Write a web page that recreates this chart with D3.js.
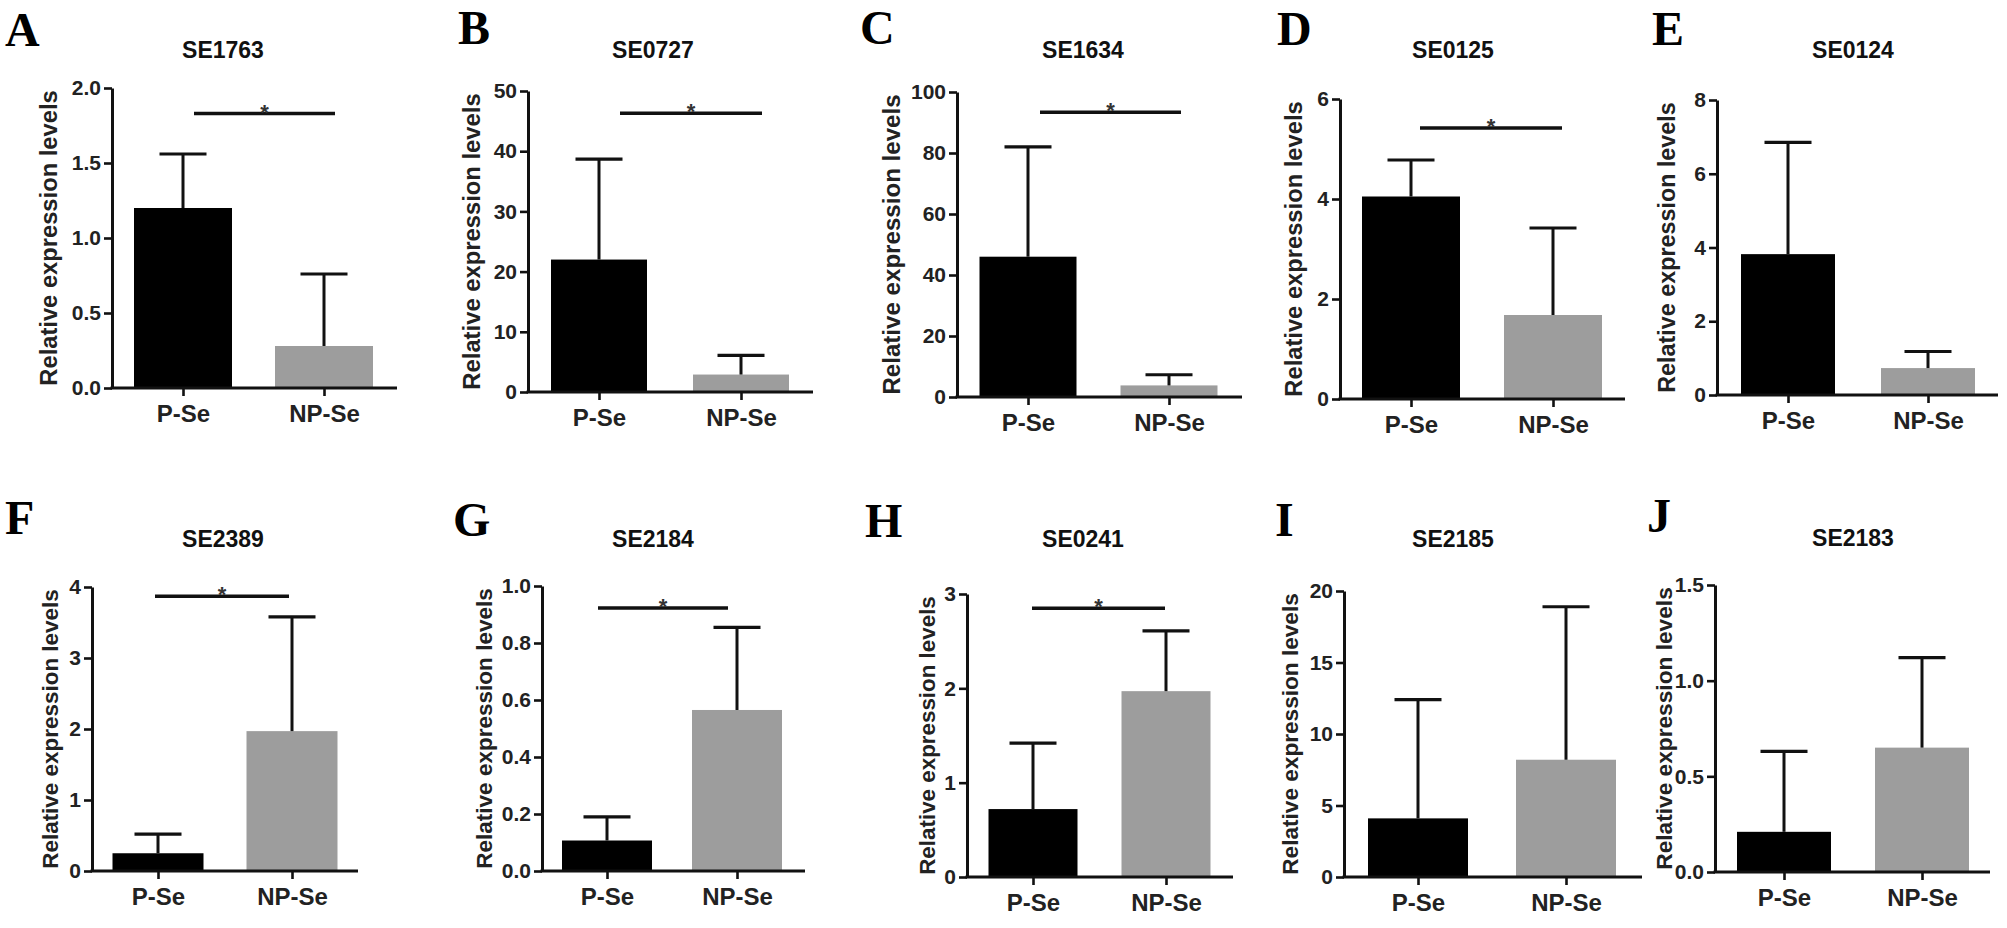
<!DOCTYPE html>
<html><head><meta charset="utf-8">
<script src="https://cdn.jsdelivr.net/npm/d3@7"></script>
<style>body{margin:0;background:#fff;} svg{display:block;}</style>
</head><body>
<svg id="chart" width="2007" height="928"></svg>
<script>
// ---------- data ----------
const panelLetters = ["A","B","C","D","E","F","G","H","I","J"];
const panelTitles  = ["SE1763","SE0727","SE1634","SE0125","SE0124","SE2389","SE2184","SE0241","SE2185","SE2183"];
const groups       = ["P-Se","NP-Se"];
const pSeMean  = [1.20, 22.0, 46.0, 4.05, 3.82, 0.25, 0.107, 0.72, 4.1, 0.21];
const pSeSD    = [0.36, 16.7, 36.0, 0.73, 3.03, 0.27, 0.083, 0.70, 8.3, 0.42];
const npSeMean = [0.28, 2.9, 3.8, 1.68, 0.73, 1.97, 0.565, 1.97, 8.2, 0.65];
const npSeSD   = [0.48, 3.2, 3.5, 1.74, 0.45, 1.61, 0.29, 0.64, 10.7, 0.47];
const yTicks = [
  [0,0.5,1.0,1.5,2.0],[0,10,20,30,40,50],[0,20,40,60,80,100],[0,2,4,6],[0,2,4,6,8],
  [0,1,2,3,4],[0,0.2,0.4,0.6,0.8,1.0],[0,1,2,3],[0,5,10,15,20],[0,0.5,1.0,1.5]
];
const yTickFormat = [".1f","d","d","d","d","d",".1f","d","d",".1f"];
const sigLevel = [1.83, 46.3, 93.4, 5.42, null, 3.87, 0.923, 2.85, null, null];
const sigMark = "*";
const yLabel = "Relative expression levels";

// ---------- layout (positions only) ----------
const layout = [
 {ax:112, top:88, bot:388, xEnd:397, c1:183, c2:324, bw:98, lx:5, ly:46, tx:223, ty:58, lab:55, sdx:11},
 {ax:528, top:91, bot:392, xEnd:813, c1:599, c2:741, bw:96, lx:458, ly:44, tx:653, ty:58, lab:48, sdx:21},
 {ax:957, top:92, bot:397, xEnd:1242, c1:1028, c2:1169, bw:97, lx:860, ly:44, tx:1083, ty:58, lab:57, sdx:12},
 {ax:1340, top:99, bot:399, xEnd:1625, c1:1411, c2:1553, bw:98, lx:1277, ly:45, tx:1453, ty:58, lab:38, sdx:9},
 {ax:1717, top:100, bot:395, xEnd:1998, c1:1788, c2:1928, bw:94, lx:1652, ly:45, tx:1853, ty:58, lab:42, sdx:0},
 {ax:92, top:587, bot:871, xEnd:358, c1:158, c2:292, bw:91, lx:5, ly:534, tx:223, ty:547, lab:34, sdx:-3},
 {ax:542, top:586, bot:871, xEnd:805, c1:607, c2:737, bw:90, lx:453, ly:536, tx:653, ty:547, lab:50, sdx:-9},
 {ax:967, top:594, bot:877, xEnd:1233, c1:1033, c2:1166, bw:89, lx:865, ly:537, tx:1083, ty:547, lab:32, sdx:-1},
 {ax:1344, top:591, bot:877, xEnd:1642, c1:1418, c2:1566, bw:100, lx:1275, ly:536, tx:1453, ty:547, lab:46, sdx:0},
 {ax:1715, top:585, bot:872, xEnd:1990, c1:1784, c2:1922, bw:94, lx:1647, ly:532, tx:1853, ty:546, lab:43, sdx:0}
];
const barColors = ["#000000", "#9d9d9d"];
const ink = "#111";
const sans = "'Liberation Sans', Arial, Helvetica, sans-serif";
const serif = "'Liberation Serif', 'Times New Roman', Times, serif";
const capW = 47;

const svg = d3.select("#chart");

panelLetters.forEach((letter, i) => {
  const L = layout[i];
  const ymax = yTicks[i][yTicks[i].length - 1];
  const y = d3.scaleLinear().domain([0, ymax]).range([L.bot, L.top]);
  const x = d3.scalePoint().domain(groups).range([L.c1, L.c2]);
  const g = svg.append("g");

  const means = [pSeMean[i], npSeMean[i]];
  const sds = [pSeSD[i], npSeSD[i]];
  const rows = groups.map((k, j) => ({k, m: means[j], sd: sds[j], c: barColors[j]}));

  // bars
  g.selectAll("rect.bar").data(rows).join("rect")
    .attr("x", d => x(d.k) - L.bw / 2)
    .attr("y", d => y(d.m))
    .attr("width", L.bw)
    .attr("height", d => y(0) - y(d.m))
    .attr("fill", d => d.c);

  // error bars
  g.selectAll("line.err").data(rows).join("line")
    .attr("x1", d => x(d.k)).attr("x2", d => x(d.k))
    .attr("y1", d => y(d.m)).attr("y2", d => y(d.m + d.sd))
    .attr("stroke", ink).attr("stroke-width", 3);
  g.selectAll("line.cap").data(rows).join("line")
    .attr("x1", d => x(d.k) - capW / 2).attr("x2", d => x(d.k) + capW / 2)
    .attr("y1", d => y(d.m + d.sd)).attr("y2", d => y(d.m + d.sd))
    .attr("stroke", ink).attr("stroke-width", 3.2);

  // y axis
  const fmt = d3.format(yTickFormat[i]);
  const yAxis = d3.axisLeft(y).tickValues(yTicks[i]).tickFormat(fmt)
    .tickSize(8).tickSizeOuter(0).tickPadding(3);
  const ya = g.append("g").attr("transform", `translate(${L.ax},0)`).call(yAxis);
  ya.select(".domain").attr("stroke", ink).attr("stroke-width", 3);
  ya.selectAll(".tick line").attr("stroke", ink).attr("stroke-width", 2.6);
  ya.selectAll(".tick text").attr("fill", "#222").style("font-family", sans)
    .style("font-weight", "bold").style("font-size", "21px");

  // x axis
  const xAxis = d3.axisBottom(x).tickSize(8).tickPadding(9).tickSizeOuter(0);
  const xa = g.append("g").attr("transform", `translate(0,${L.bot})`).call(xAxis);
  xa.select(".domain").remove();
  xa.selectAll(".tick line").attr("stroke", ink).attr("stroke-width", 2.6);
  xa.selectAll(".tick text").attr("fill", "#222").style("font-family", sans)
    .style("font-weight", "bold").style("font-size", "24px");
  g.append("line")
    .attr("x1", L.ax - 1.5).attr("x2", L.xEnd)
    .attr("y1", y(0)).attr("y2", y(0))
    .attr("stroke", ink).attr("stroke-width", 3);

  // y axis label
  const fs = (L.bot - L.top) * 0.985 / 12.451;
  g.append("text")
    .attr("transform", `translate(${L.ax - L.lab},${(L.top + L.bot) / 2}) rotate(-90)`)
    .attr("text-anchor", "middle")
    .style("font-family", sans).style("font-weight", "bold").style("font-size", fs + "px")
    .attr("fill", "#222")
    .text(yLabel);

  // title
  g.append("text").attr("x", L.tx).attr("y", L.ty).attr("text-anchor", "middle")
    .style("font-family", sans).style("font-weight", "bold").style("font-size", "23px")
    .attr("fill", "#111").text(panelTitles[i]);

  // panel letter
  g.append("text").attr("x", L.lx).attr("y", L.ly)
    .style("font-family", serif).style("font-weight", "bold").style("font-size", "48px")
    .attr("fill", "#000").text(letter);

  // significance
  if (sigLevel[i] != null) {
    const sy = y(sigLevel[i]);
    const sx1 = x(groups[0]) + L.sdx, sx2 = x(groups[1]) + L.sdx;
    g.append("line").attr("x1", sx1).attr("x2", sx2).attr("y1", sy).attr("y2", sy)
      .attr("stroke", ink).attr("stroke-width", 3.5);
    g.append("text").attr("x", (sx1 + sx2) / 2).attr("y", sy + 6).attr("text-anchor", "middle")
      .style("font-family", sans).style("font-weight", "bold").style("font-size", "22px")
      .attr("fill", "#333").text(sigMark);
  }
});
</script>
</body></html>
